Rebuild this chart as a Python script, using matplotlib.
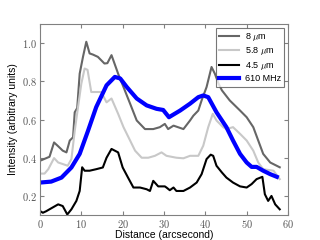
import matplotlib
matplotlib.use("Agg")
import matplotlib.pyplot as plt
from matplotlib.ticker import FuncFormatter

plt.rcParams['mathtext.fontset'] = 'cm'
plt.rcParams['font.family'] = ['Liberation Sans', 'DejaVu Sans']

# 8 micron profile
d8 = [0, 2.3, 3.4, 4.4, 5.5, 6.4, 7.2, 8.0, 8.4, 9.0, 9.6, 10.4, 11.2, 12.0, 12.8, 14.0,
      15.6, 16.3, 17.3, 18.9, 20.2, 21.8, 23.4, 25.4, 27.4, 29.0, 30.2, 31.0, 32.3, 34.7,
      36.3, 37.1, 38.3, 39.1, 40.3, 41.5, 42.3, 43.2, 44.0, 45.9, 48.4, 50.0, 51.6, 52.8,
      54.0, 55.7, 58.0]
i8 = [0.384, 0.405, 0.48, 0.46, 0.437, 0.428, 0.49, 0.507, 0.638, 0.66, 0.84, 0.928, 1.007,
      0.946, 0.94, 0.928, 0.893, 0.895, 0.937, 0.84, 0.77, 0.683, 0.595, 0.55, 0.55, 0.56,
      0.577, 0.55, 0.568, 0.55, 0.595, 0.62, 0.647, 0.70, 0.77, 0.875, 0.84, 0.788, 0.753,
      0.70, 0.647, 0.612, 0.56, 0.49, 0.42, 0.375, 0.35]

# 5.8 micron profile
d58 = [0, 1.1, 2.0, 3.4, 4.4, 5.5, 6.7, 7.6, 8.4, 9.2, 10.0, 10.8, 11.5, 12.4, 13.6, 14.8,
       16.1, 17.3, 18.9, 20.2, 21.8, 23.0, 24.6, 26.2, 27.8, 29.4, 30.6, 33.0, 34.7, 36.3,
       38.3, 39.5, 40.7, 41.8, 42.7, 44.3, 45.1, 46.7, 48.4, 50.0, 51.6, 52.8, 54.0, 56.5,
       58.0]
i58 = [0.317, 0.317, 0.34, 0.398, 0.375, 0.367, 0.358, 0.393, 0.54, 0.665, 0.788, 0.867,
       0.86, 0.744, 0.744, 0.744, 0.69, 0.71, 0.63, 0.56, 0.49, 0.437, 0.40, 0.40, 0.41,
       0.428, 0.41, 0.40, 0.397, 0.41, 0.41, 0.463, 0.56, 0.63, 0.595, 0.56, 0.55, 0.56,
       0.525, 0.49, 0.437, 0.375, 0.34, 0.332, 0.288]

# 4.5 micron profile
d45 = [0, 0.7, 1.5, 2.7, 4.4, 5.5, 6.6, 7.6, 8.8, 9.6, 10.2, 10.8, 12.0, 13.6, 15.2, 16.1,
       17.3, 18.9, 20.0, 21.3, 22.6, 24.2, 25.8, 26.6, 27.4, 28.6, 30.2, 30.6, 31.4, 32.3,
       33.0, 34.7, 36.3, 37.9, 39.1, 40.3, 41.3, 41.9, 42.7, 44.0, 45.1, 46.7, 48.4, 50.0,
       51.2, 52.4, 53.8, 54.4, 55.2, 56.0, 56.9, 58.0]
i45 = [0.121, 0.112, 0.12, 0.135, 0.156, 0.147, 0.103, 0.13, 0.174, 0.226, 0.35, 0.332,
       0.332, 0.34, 0.349, 0.40, 0.446, 0.428, 0.349, 0.296, 0.244, 0.244, 0.235, 0.226,
       0.279, 0.25, 0.25, 0.244, 0.23, 0.244, 0.226, 0.226, 0.244, 0.27, 0.314, 0.393,
       0.416, 0.41, 0.358, 0.323, 0.296, 0.27, 0.25, 0.244, 0.262, 0.288, 0.30, 0.209,
       0.174, 0.2, 0.156, 0.13]

# 610 MHz profile
d610 = [0, 2.7, 5.2, 7.6, 9.6, 11.6, 13.6, 16.1, 18.1, 19.4, 21.0, 23.4, 25.8, 28.2, 29.8,
        31.2, 33.9, 36.3, 38.3, 39.5, 40.7, 42.7, 45.1, 46.7, 48.4, 50.0, 51.2, 52.4, 54.0,
        55.7, 57.3]
i610 = [0.27, 0.275, 0.296, 0.349, 0.42, 0.54, 0.665, 0.779, 0.823, 0.815, 0.77, 0.71,
        0.674, 0.656, 0.65, 0.612, 0.647, 0.683, 0.717, 0.726, 0.717, 0.638, 0.56, 0.49,
        0.42, 0.375, 0.352, 0.352, 0.332, 0.314, 0.30]

fig = plt.figure(figsize=(3.2, 2.4), dpi=100)
ax = fig.add_axes([0.125, 0.104, 0.775, 0.796])

ax.plot(d8, i8, color="#666666", lw=1.5, label=r"8 $\mu$m")
ax.plot(d58, i58, color="#c8c8c8", lw=1.5, label=r"5.8 $\mu$m")
ax.plot(d45, i45, color="black", lw=1.5, label=r"4.5 $\mu$m")
ax.plot(d610, i610, color="blue", lw=3, label="610 MHz")

ax.set_xlim(0, 60)
ax.set_ylim(0.1, 1.1)
ax.set_xticks([0, 10, 20, 30, 40, 50, 60])
ax.set_yticks([0.2, 0.4, 0.6, 0.8, 1.0])
ax.xaxis.set_major_formatter(FuncFormatter(lambda v, p: "$%d$" % v))
ax.yaxis.set_major_formatter(FuncFormatter(lambda v, p: "$%.1f$" % v))
ax.tick_params(direction="in", top=True, right=True, labelsize=7.5,
               colors="#808080", labelcolor="#555555", length=3, pad=2)
for s in ax.spines.values():
    s.set_color("#808080")

ax.set_xlabel("Distance (arcsecond)", fontsize=7.5, labelpad=0)
ax.set_ylabel("Intensity (arbitrary units)", fontsize=7.5, labelpad=3)

leg = ax.legend(loc="upper right", fontsize=6.5, frameon=True, fancybox=False,
                handlelength=2.2, handletextpad=0.6, borderpad=0.4, labelspacing=0.25,
                borderaxespad=0.4)
leg.get_frame().set_edgecolor("#555555")
leg.get_frame().set_linewidth(0.8)

fig.savefig("out.png", dpi=100)
